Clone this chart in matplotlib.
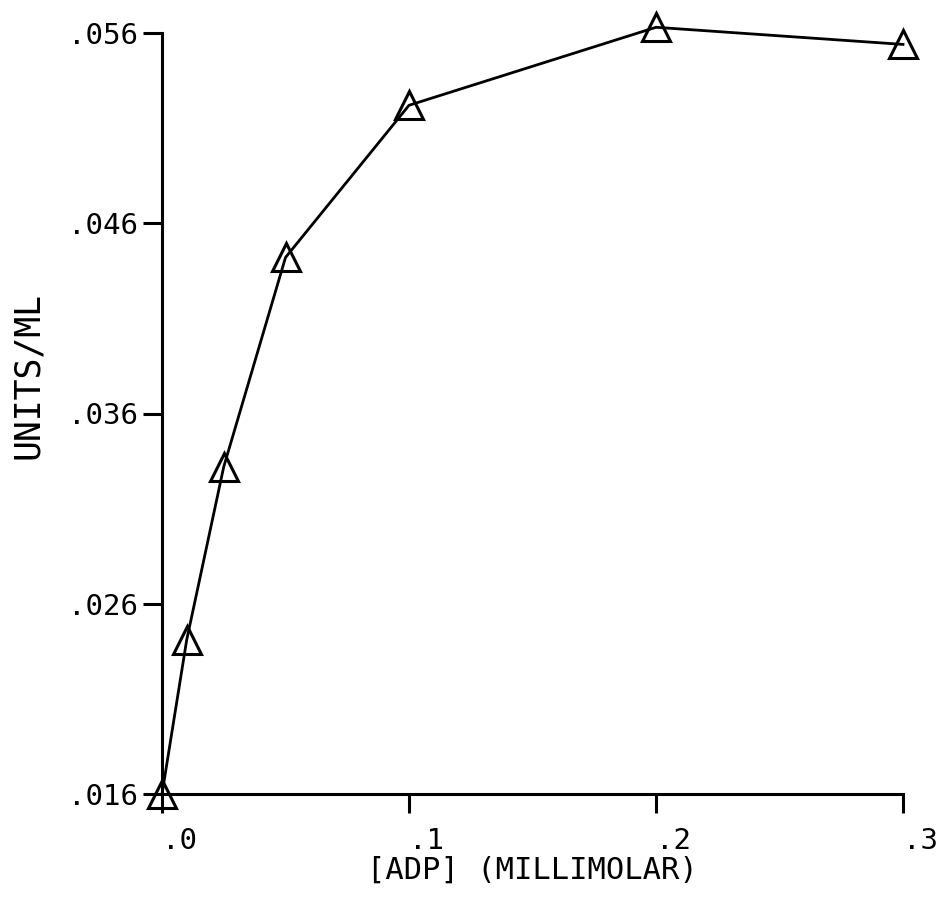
import matplotlib.pyplot as plt

# ADP concentration (mM) vs activity (units/ml)
adp = [0.0, 0.01, 0.025, 0.05, 0.1, 0.2, 0.3]
units = [0.016, 0.0241, 0.0332, 0.0442, 0.0522, 0.0563, 0.0554]

xticks = [0.0, 0.1, 0.2, 0.3]
xticklabels = ['.0', '.1', '.2', '.3']
yticks = [0.016, 0.026, 0.036, 0.046, 0.056]
yticklabels = ['.016', '.026', '.036', '.046', '.056']

plt.rcParams['font.family'] = 'DejaVu Sans Mono'

fig = plt.figure(figsize=(9.48, 8.98), dpi=100)
ax = fig.add_axes([162/948, 1 - 794/898, 741/948, 761/898])

ax.plot(adp, units, color='black', linewidth=2.0, marker='^', markersize=20,
        markerfacecolor='none', markeredgecolor='black', markeredgewidth=2.2,
        clip_on=False, zorder=3)

ax.set_xlim(0, 0.3)
ax.set_ylim(0.016, 0.056)

for side in ['top', 'right']:
    ax.spines[side].set_visible(False)
for side in ['left', 'bottom']:
    ax.spines[side].set_linewidth(2.2)

ax.set_xticks(xticks)
ax.set_xticklabels(xticklabels, fontsize=21)
ax.set_yticks(yticks)
ax.set_yticklabels(yticklabels, fontsize=21)
ax.tick_params(axis='both', direction='out', length=14, width=2.2)
ax.tick_params(axis='y', pad=3)
ax.tick_params(axis='x', pad=10)
for lab in ax.get_xticklabels():
    lab.set_ha('left')

ax.set_xlabel('[ADP] (MILLIMOLAR)', fontsize=22, labelpad=0)
ax.set_ylabel('UNITS/ML', fontsize=25)
ax.yaxis.set_label_coords(-0.158, 0.55)

fig.savefig('out.png', dpi=100)
